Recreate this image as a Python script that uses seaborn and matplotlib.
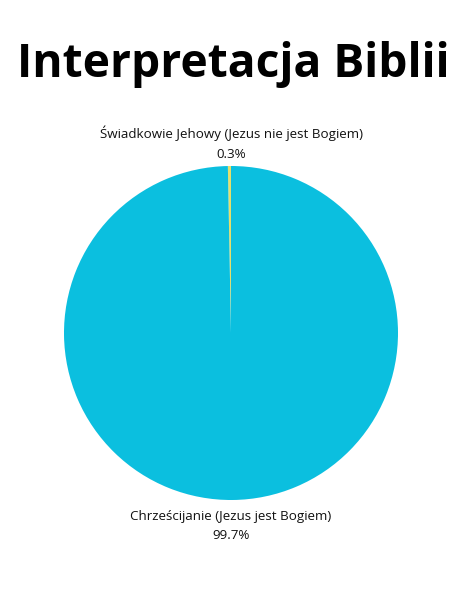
import matplotlib
matplotlib.use("Agg")
import matplotlib.pyplot as plt
import seaborn as sns
import numpy as np

sns.set_theme(style="white")
plt.rcParams['font.family'] = ['Open Sans', 'DejaVu Sans']

title = "Interpretacja Biblii"
categories = ["Świadkowie Jehowy (Jezus nie jest Bogiem)", "Chrześcijanie (Jezus jest Bogiem)"]
values = [0.3, 99.7]
pct_labels = ["0.3%", "99.7%"]
colors = ["#e6df6b", "#0bbfdf"]

fig = plt.figure(figsize=(4.66, 6.09), dpi=100)
fig.patch.set_facecolor("white")
ax = fig.add_axes([64/466, (609-500)/609, 334/466, 334/609])
wedges, _ = ax.pie(values, colors=colors, startangle=90, counterclock=True,
                   radius=1, wedgeprops=dict(linewidth=0))
ax.set_xlim(-1, 1)
ax.set_ylim(-1, 1)
ax.set_aspect("equal")
ax.axis("off")

for w, cat, pct in zip(wedges, categories, pct_labels):
    mid = np.deg2rad((w.theta1 + w.theta2) / 2)
    s = np.sign(np.sin(mid))
    if s > 0:
        ax.text(0, 1.198, cat, ha="center", va="center", fontsize=9.6, color="#111111", clip_on=False)
        ax.text(0, 1.066, pct, ha="center", va="center", fontsize=9.6, color="#111111", clip_on=False)
    else:
        ax.text(0, -1.096, cat, ha="center", va="center", fontsize=9.6, color="#111111", clip_on=False)
        ax.text(0, -1.21, pct, ha="center", va="center", fontsize=9.6, color="#111111", clip_on=False)

fig.text(0.5, 1 - 64/609, title, ha="center", va="center", fontsize=33.2, fontweight="bold", color="black")

fig.savefig("out.png", dpi=100, facecolor="white")
